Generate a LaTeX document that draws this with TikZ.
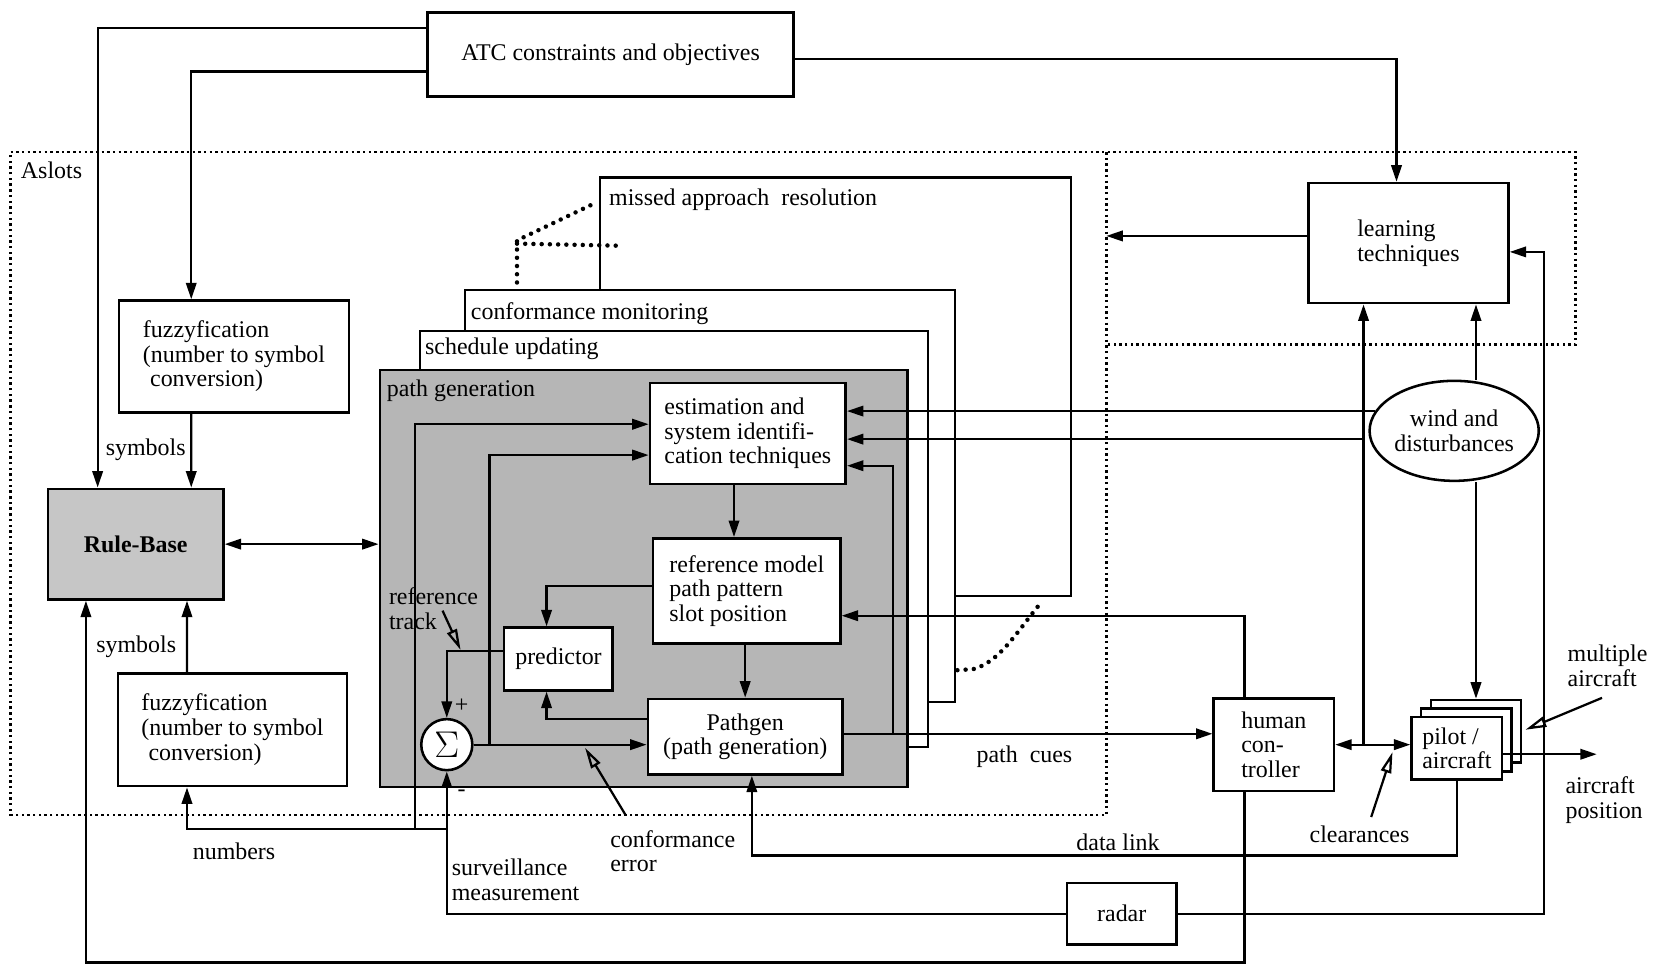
\documentclass[tikz,border=0pt]{standalone}
\usepackage{fontspec}
\setmainfont{Liberation Serif}
\usepackage{tikz}
\usetikzlibrary{arrows.meta,calc,positioning,shapes.geometric}
\definecolor{slotgray}{RGB}{182,182,182}
\definecolor{rulegray}{RGB}{198,198,198}

\begin{document}
\begin{tikzpicture}[x=0.025cm, y=-0.025cm,
      font=\fontsize{16}{16.5}\selectfont,
      box/.style={draw, line width=1.7pt, fill=white, inner sep=3pt},
      panel/.style={draw, line width=1.5pt, fill=white, inner sep=0pt},
      lbl/.style={inner sep=1pt},
      arr/.style={-{Triangle[length=11pt,width=7pt]}, line width=1.5pt},
      dbl/.style={{Triangle[length=11pt,width=7pt]}-{Triangle[length=11pt,width=7pt]}, line width=1.5pt},
      oarr/.style={-{Triangle[open,length=14pt,width=7pt]}, line width=1.5pt},
      fold/.style={line width=3pt, line cap=round, dash pattern=on 0pt off 5.5pt},
      slotline/.style={line width=1.6pt, dash pattern=on 1.6pt off 2.2pt}
    ]
  \useasboundingbox (0,0) rectangle (1568,917);

  % Aslots region
  \coordinate (slNW) at (10,143);
  \coordinate (slNE) at (1481,143);
  \coordinate (slSE) at (1481,324);
  \coordinate (slMid) at (1040,324);
  \coordinate (slMidTop) at (1040,143);
  \coordinate (slBot) at (1040,766);
  \coordinate (slSW) at (10,766);
  \draw[slotline] (slNW) -- (slNE) -- (slSE) -- (slMid);
  \draw[slotline] (slMidTop) -- (slBot) -- (slSW) -- (slNW);
  \node[lbl, anchor=west] (aslots) at (18,160) {Aslots};

  % stacked panels
  \node[panel, minimum width=11.075cm, minimum height=9.825cm] (pmiss) at (785.5,363.5) {};
  \node[panel, minimum width=11.525cm, minimum height=9.675cm] (pconf) at (667.5,466.5) {};
  \node[panel, minimum width=11.925cm, minimum height=9.775cm] (psched) at (633.5,506.5) {};
  \node[panel, fill=slotgray, minimum width=12.4cm, minimum height=9.8cm] (ppath) at (605,544) {};
  \node[lbl, anchor=west] (lmiss) at (571,188) {missed approach\ \ resolution};
  \node[lbl, anchor=west] (lconf) at (441,295) {conformance monitoring};
  \node[lbl, anchor=west] (lsched) at (398,328) {schedule updating};
  \node[lbl, anchor=west] (lpath) at (362,367) {path generation};

  % folds
  \draw[fold] (555,193) -- (486,226) -- (486,271);
  \draw[fold] (486,229) -- (583,231);
  \draw[fold] (900,630) -- (915,629) .. controls (940,622) and (955,595) .. (979,566);

  % boxes
  \node[box, minimum width=8.6cm, minimum height=1.975cm] (atc) at (574,51) {ATC constraints and objectives};
  \node[box, align=left, minimum width=5.4cm, minimum height=2.625cm] (fuzA) at (220,335) {fuzzyfication\\(number to symbol\\\hspace{0.3em}conversion)};
  \node[box, fill=rulegray, font=\fontsize{16}{16.5}\selectfont\bfseries, minimum width=4.125cm, minimum height=2.6cm] (rule) at (127.5,511.5) {Rule-Base};
  \node[box, align=left, minimum width=5.375cm, minimum height=2.65cm] (fuzB) at (218.5,686) {fuzzyfication\\(number to symbol\\\hspace{0.3em}conversion)};
  \node[box, align=left, minimum width=4.7cm, minimum height=2.825cm] (learn) at (1324,228.5) {learning\\techniques};
  \node[box, align=left, minimum width=4.6cm, minimum height=2.375cm] (estim) at (703,407.5) {estimation and\\system identifi-\\cation techniques};
  \node[box, align=left, minimum width=4.4cm, minimum height=2.475cm] (refm) at (702,555.5) {reference model\\path pattern\\slot position};
  \node[box, minimum width=2.55cm, minimum height=1.475cm] (pred) at (525,619.5) {predictor};
  \node[box, align=center, minimum width=4.575cm, minimum height=1.775cm] (pgen) at (700.5,692.5) {Pathgen\\(path generation)};
  \node[box, circle, inner sep=0pt, minimum size=1.2cm] (sum) at (420,700) {\fontsize{26}{26}\selectfont$\Sigma$};
  \node[box, align=left, minimum width=2.825cm, minimum height=2.175cm] (human) at (1197.5,700) {human\\con-\\troller};
  \node[box, ellipse, align=center, inner sep=0pt, minimum width=3.95cm, minimum height=2.35cm] (wind) at (1367,405) {wind and\\disturbances};
  \node[box, minimum width=2.125cm, minimum height=1.475cm] (pilotC) at (1387.5,687.5) {};
  \node[box, minimum width=2.125cm, minimum height=1.475cm] (pilotB) at (1378.5,695.5) {};
  \node[box, align=left, minimum width=2.125cm, minimum height=1.475cm] (pilot) at (1369.5,703.5) {pilot /\\aircraft};
  \node[box, minimum width=2.575cm, minimum height=1.45cm] (radar) at (1054.5,859) {radar};

  % ATC and rule base
  \draw[arr] ($(atc.north west)+(0,16)$) -| ($(rule.north west)+(48,0)$);
  \draw[arr] ($(atc.north west)+(0,57)$) -| ($(fuzA.north west)+(69,0)$);
  \draw[arr] ($(fuzA.south west)+(69,0)$) -- ($(rule.north west)+(136,0)$);
  \draw[arr] ($(fuzB.north west)+(66,0)$) -- ($(rule.south west)+(132,0)$);
  \draw[arr] ($(atc.north east)+(0,45)$) -| ($(learn.north west)+(84,0)$);
  \draw[dbl] (rule.east) -- (rule.east -| ppath.west);

  % learning and wind
  \draw[arr] ($(learn.north west)+(0,51)$) coordinate (lw) -- (lw -| slMidTop);
  \draw[arr] (radar.east) -- ++(344,0) |- ($(learn.north east)+(0,66)$);
  \draw[arr] (wind.north -| pilotC.north) -- (learn.south -| pilotC.north);
  \draw[arr] (wind.south -| pilotC.north) -- (pilotC.north);
  \draw[dbl] (human.east) -- (human.east -| pilot.west);
  \coordinate (lrnIn) at ($(learn.south west)+(53,0)$);
  \draw[arr] (lrnIn |- human.east) -- (lrnIn);

  % into estimation
  \coordinate (eIn2) at ($(estim.north east)+(0,54)$);
  \coordinate (eIn3) at ($(estim.north east)+(0,79)$);
  \coordinate (eL1) at ($(estim.north west)+(0,40)$);
  \coordinate (eL2) at ($(estim.north west)+(0,69)$);
  \coordinate (pgOut) at ($(pgen.north east)+(0,34)$);
  \draw[arr] (wind.166) -- (wind.166 -| estim.east);
  \draw[arr] (lrnIn |- eIn2) -- (eIn2);
  \draw[arr] (pgOut) -| ($(eIn3)+(43,0)$) -- (eIn3);

  % path generation loop
  \draw[arr] ($(estim.south)+(-13,0)$) coordinate (er) -- (er |- refm.north);
  \draw[arr] (pgen.north |- refm.south) -- (pgen.north);
  \draw[arr] ($(refm.north west)+(0,46)$) -| ($(pred.north west)+(41,0)$);
  \draw[arr] ($(pgen.north west)+(0,20)$) -| ($(pred.south west)+(41,0)$);
  \draw[arr] ($(pred.north west)+(0,23)$) -| (sum.north);
  \draw[arr] (sum.east) -- (sum.east -| pgen.west);
  \draw[arr] ($(sum.east)+(15,0)$) |- (eL2);

  % surveillance and numbers
  \draw[arr] (radar.west) -| (sum.south);
  \coordinate (jn) at ($(sum.south)+(0,54)$);
  \draw[arr] (jn) -| ($(fuzB.south west)+(66,0)$);
  \draw[arr] ($(jn)+(-30,0)$) |- (eL1);

  % controller and aircraft
  \draw[arr] (pgOut) -- (pgOut -| human.west);
  \draw[arr] ($(human.north west)+(30,0)$) |- ($(refm.north east)+(0,74)$);
  \draw[arr] ($(human.south west)+(30,0)$) -- ++(0,160) -| ($(rule.south west)+(37,0)$);
  \draw[arr] (pilot.south) -- ++(0,70) -| ($(pgen.south west)+(99,0)$);
  \coordinate (acEnd) at (1501,709);
  \draw[arr] (pilot.east |- acEnd) -- (acEnd);

  % labels
  \node[lbl] (symA) at (137,423) {symbols};
  \node[lbl] (symB) at (128,608) {symbols};
  \node[lbl] (numb) at (220,800) {numbers};
  \node[lbl, align=left, anchor=west] (reftrk) at (364,572) {reference\\track};
  \node[lbl] (plus) at (434,663) {+};
  \node[lbl] (minus) at (434,746) {-};
  \node[lbl, align=left, anchor=west] (cerr) at (572,800) {conformance\\error};
  \node[lbl, align=left, anchor=west] (surv) at (423,827) {surveillance\\measurement};
  \node[lbl] (pcues) at (963,711) {path\ \ cues};
  \node[lbl] (dlink) at (1051,792) {data link};
  \node[lbl] (clr) at (1278,784) {clearances};
  \node[lbl, align=left, anchor=west] (multi) at (1472,626) {multiple\\aircraft};
  \node[lbl, align=left, anchor=west] (acpos) at (1470,752) {aircraft\\position};

  % pointers
  \coordinate (rtTail) at (416,574);
  \coordinate (rtTip) at (433,611);
  \coordinate (ceTail) at (588,766);
  \coordinate (ceTip) at (550,703);
  \coordinate (clTail) at (1289,768);
  \coordinate (clTip) at (1309,707);
  \coordinate (maTail) at (1506,656);
  \coordinate (maTip) at (1434,686);
  \draw[oarr] (rtTail) -- (rtTip);
  \draw[oarr] (ceTail) -- (ceTip);
  \draw[oarr] (clTail) -- (clTip);
  \draw[oarr] (maTail) -- (maTip);
\end{tikzpicture}
\end{document}
